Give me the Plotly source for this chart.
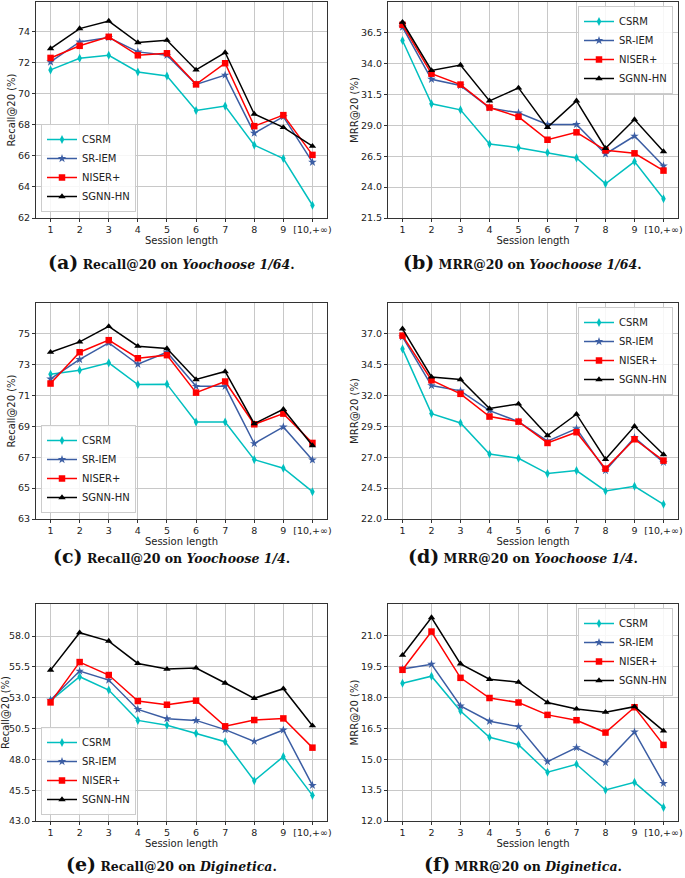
import plotly.graph_objects as go
from plotly.subplots import make_subplots

session_labels = ["1", "2", "3", "4", "5", "6", "7", "8", "9", "[10,+\u221e)"]
models = ["CSRM", "SR-IEM", "NISER+", "SGNN-HN"]

# (a) Recall@20 on Yoochoose 1/64
recall_yc64 = {
    "CSRM":    [71.53, 72.28, 72.47, 71.40, 71.14, 68.92, 69.20, 66.69, 65.83, 62.82],
    "SR-IEM":  [72.04, 73.33, 73.61, 72.69, 72.47, 70.60, 71.20, 67.46, 68.52, 65.59],
    "NISER+":  [72.30, 73.08, 73.66, 72.47, 72.60, 70.60, 71.96, 67.91, 68.62, 66.06],
    "SGNN-HN": [72.90, 74.19, 74.67, 73.29, 73.44, 71.53, 72.65, 68.69, 67.83, 66.62],
}
# (b) MRR@20 on Yoochoose 1/64
mrr_yc64 = {
    "CSRM":    [35.88, 30.75, 30.26, 27.49, 27.20, 26.80, 26.37, 24.27, 26.07, 23.06],
    "SR-IEM":  [36.96, 32.74, 32.23, 30.42, 30.02, 29.08, 29.08, 26.69, 28.14, 25.72],
    "NISER+":  [37.15, 33.19, 32.31, 30.45, 29.70, 27.84, 28.44, 26.98, 26.74, 25.34],
    "SGNN-HN": [37.36, 33.46, 33.89, 30.99, 32.04, 28.84, 30.99, 27.15, 29.48, 26.88],
}
# (c) Recall@20 on Yoochoose 1/4
recall_yc4 = {
    "CSRM":    [72.38, 72.64, 73.12, 71.71, 71.74, 69.29, 69.29, 66.85, 66.29, 64.77],
    "SR-IEM":  [72.08, 73.34, 74.42, 73.03, 73.81, 71.60, 71.60, 67.89, 68.97, 66.83],
    "NISER+":  [71.78, 73.81, 74.59, 73.42, 73.62, 71.19, 71.91, 69.14, 69.83, 67.93],
    "SGNN-HN": [73.81, 74.48, 75.48, 74.20, 74.05, 72.04, 72.56, 69.18, 70.11, 67.76],
}
# (d) MRR@20 on Yoochoose 1/4
mrr_yc4 = {
    "CSRM":    [35.78, 30.54, 29.78, 27.27, 26.92, 25.68, 25.92, 24.27, 24.65, 23.19],
    "SR-IEM":  [36.76, 32.81, 32.38, 30.78, 29.89, 28.30, 29.32, 25.92, 28.59, 26.59],
    "NISER+":  [36.86, 33.24, 32.14, 30.30, 29.89, 28.16, 29.03, 26.08, 28.46, 26.73],
    "SGNN-HN": [37.41, 33.51, 33.30, 30.95, 31.32, 28.76, 30.49, 26.84, 29.51, 27.22],
}
# (e) Recall@20 on Diginetica
recall_dn = {
    "CSRM":    [52.76, 54.70, 53.62, 51.16, 50.76, 50.11, 49.43, 46.27, 48.22, 45.08],
    "SR-IEM":  [52.81, 55.16, 54.43, 52.05, 51.30, 51.16, 50.41, 49.46, 50.38, 45.89],
    "NISER+":  [52.62, 55.89, 54.84, 52.73, 52.43, 52.76, 50.68, 51.19, 51.32, 48.95],
    "SGNN-HN": [55.24, 58.27, 57.59, 55.78, 55.32, 55.41, 54.19, 52.95, 53.73, 50.73],
}
# (f) MRR@20 on Diginetica
mrr_dn = {
    "CSRM":    [18.70, 19.04, 17.35, 16.07, 15.71, 14.37, 14.76, 13.51, 13.88, 12.66],
    "SR-IEM":  [19.39, 19.62, 17.59, 16.85, 16.59, 14.89, 15.57, 14.84, 16.33, 13.83],
    "NISER+":  [19.35, 21.21, 18.96, 17.98, 17.76, 17.16, 16.90, 16.30, 17.53, 15.70],
    "SGNN-HN": [20.06, 21.89, 19.64, 18.89, 18.75, 17.76, 17.45, 17.29, 17.56, 16.38],
}

ticks_a = [62, 64, 66, 68, 70, 72, 74]
ticks_b = [21.5, 24.0, 26.5, 29.0, 31.5, 34.0, 36.5]
ticks_c = [63, 65, 67, 69, 71, 73, 75]
ticks_d = [22.0, 24.5, 27.0, 29.5, 32.0, 34.5, 37.0]
ticks_e = [43.0, 45.5, 48.0, 50.5, 53.0, 55.5, 58.0]
ticks_f = [12.0, 13.5, 15.0, 16.5, 18.0, 19.5, 21.0]

STYLE = {
    "CSRM":    dict(color="#00bfbf", symbol="diamond-tall"),
    "SR-IEM":  dict(color="#3b5da3", symbol="star"),
    "NISER+":  dict(color="#ff0000", symbol="square"),
    "SGNN-HN": dict(color="#000000", symbol="triangle-up"),
}

W, H = 685, 878
def px_x(a, b):
    return [a / W, b / W]
def px_y(top, bot):
    return [1 - bot / H, 1 - top / H]

panels = [
    # data, ticks, y range, ylabel, fmt, x px, y px, legend corner, caption, tag, caption y
    (recall_yc64, ticks_a, [62, 75.9], "Recall@20 (%)", "d", (36, 327), (2, 218), "ll",
     "Recall@20 on <i>Yoochoose 1/64</i>.", "(a)", 262),
    (mrr_yc64, ticks_b, [21.5, 39.0], "MRR@20 (%)", ".1f", (388, 678), (2, 218), "ur",
     "MRR@20 on <i>Yoochoose 1/64</i>.", "(b)", 262),
    (recall_yc4, ticks_c, [63, 77.0], "Recall@20 (%)", "d", (36, 327), (303, 519), "ll",
     "Recall@20 on <i>Yoochoose 1/4</i>.", "(c)", 556),
    (mrr_yc4, ticks_d, [22.0, 39.5], "MRR@20 (%)", ".1f", (388, 678), (303, 519), "ur",
     "MRR@20 on <i>Yoochoose 1/4</i>.", "(d)", 556),
    (recall_dn, ticks_e, [43.0, 60.6], "Recall@20 (%)", ".1f", (36, 327), (604, 821), "ll",
     "Recall@20 on <i>Diginetica</i>.", "(e)", 864),
    (mrr_dn, ticks_f, [12.0, 22.55], "MRR@20 (%)", ".1f", (388, 678), (604, 821), "ur",
     "MRR@20 on <i>Diginetica</i>.", "(f)", 864),
]

fig = make_subplots(rows=3, cols=2)
x_idx = list(range(1, len(session_labels) + 1))
annotations = []
layout_upd = {}

for i, (data, ticks, yr, ylabel, fmt, xd, yd, lpos, cap, tag, capy) in enumerate(panels):
    row, col = i // 2 + 1, i % 2 + 1
    lname = "legend" if i == 0 else f"legend{i + 1}"
    for m in models:
        st = STYLE[m]
        fig.add_trace(go.Scatter(
            x=x_idx, y=data[m], name=m, mode="lines+markers",
            line=dict(color=st["color"], width=1.5),
            marker=dict(symbol=st["symbol"], size=6.5, color=st["color"]),
            legend=lname, showlegend=True,
        ), row=row, col=col)
    axn = "" if i == 0 else str(i + 1)
    layout_upd[f"xaxis{axn}"] = dict(
        domain=px_x(*xd), range=[0.5, 10.5], tickvals=x_idx, ticktext=session_labels,
        showgrid=True, gridcolor="#c8c8c8", gridwidth=1, zeroline=False,
        showline=True, linecolor="#333", linewidth=1, mirror=True,
        ticks="outside", ticklen=3, tickcolor="#333", automargin=False,
        tickfont=dict(size=9.5, color="#222"),
        title=dict(text="Session length", font=dict(size=10, color="#222"), standoff=0),
    )
    layout_upd[f"yaxis{axn}"] = dict(
        domain=px_y(*yd), range=yr, tickvals=ticks, tickformat=fmt,
        showgrid=True, gridcolor="#c8c8c8", gridwidth=1, zeroline=False,
        showline=True, linecolor="#333", linewidth=1, mirror=True,
        ticks="outside", ticklen=3, tickcolor="#333", automargin=False,
        tickfont=dict(size=9.5, color="#222"),
        title=dict(text=ylabel, font=dict(size=10, color="#222"), standoff=0),
    )
    if lpos == "ll":
        lx, ly, xa, ya = (xd[0] + 5) / W, 1 - (yd[1] - 6) / H, "left", "bottom"
    else:
        lx, ly, xa, ya = (xd[1] - 5) / W, 1 - (yd[0] + 4) / H, "right", "top"
    layout_upd[lname] = dict(
        x=lx, y=ly, xanchor=xa, yanchor=ya,
        bgcolor="rgba(255,255,255,0.85)", bordercolor="#cccccc", borderwidth=1,
        font=dict(size=10, color="#222"), itemwidth=30, tracegroupgap=0,
    )
    cx = (xd[0] + xd[1]) / 2 / W - 0.015
    annotations.append(dict(
        x=cx, y=1 - capy / H, xref="paper", yref="paper", showarrow=False,
        xanchor="center", yanchor="middle",
        text=f"<b><span style='font-size:19px'>{tag}</span> {cap}</b>",
        font=dict(family="DejaVu Serif", size=12.5, color="#111"),
    ))

fig.update_layout(
    **layout_upd,
    width=W, height=H,
    margin=dict(l=0, r=0, t=0, b=0, autoexpand=False),
    paper_bgcolor="white", plot_bgcolor="white",
    font=dict(family="DejaVu Sans", color="#222"),
    annotations=annotations,
)

# drop the browser's default body margin so the figure sits at the page origin
fig.write_html("out.html", config={"displayModeBar": False},
               post_script="document.body.style.margin='0';")
